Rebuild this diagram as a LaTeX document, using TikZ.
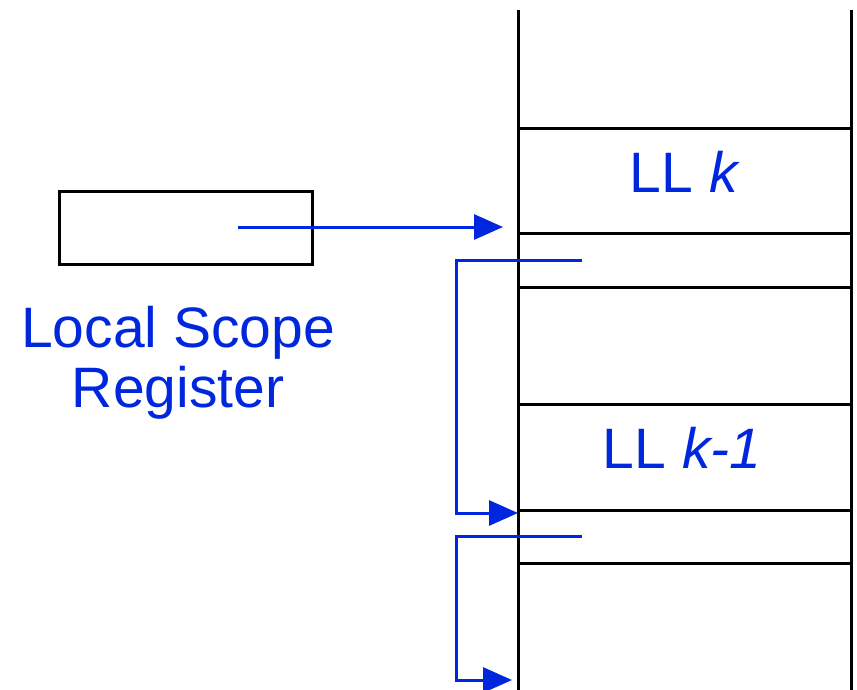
\documentclass[tikz,border=0pt]{standalone}
\usepackage{fontspec}
\setmainfont{Liberation Sans}
\usetikzlibrary{arrows.meta}
\definecolor{lblue}{RGB}{0,38,222}
\begin{document}
\begin{tikzpicture}[x=1pt,y=-1pt,
  stackline/.style={black,line width=3pt},
  ptr/.style={lblue,line width=3pt,-{Triangle[length=29pt,width=25pt]}},
  lbl/.style={text=lblue,font=\fontsize{57}{60}\selectfont,inner sep=0pt,anchor=base}]
\useasboundingbox (0,0) rectangle (857,689);
\begin{scope}
\clip (0,0) rectangle (857,689);
% stack walls
\draw[stackline] (518,10) -- (518,700);
\draw[stackline] (851,10) -- (851,700);
% stack rows
\foreach \y in {128,233,287,404,510,563}
  \draw[stackline] (518,\y) -- (851,\y);
% labels in stack
\node[lbl] (llk) at (685,192) {LL \textit{k}};
\node[lbl] (llk1) at (682,468) {LL \textit{k-1}};
% register
\node[draw=black,line width=3pt,minimum width=253pt,minimum height=73pt,inner sep=0pt] (reg) at (185.5,227.5) {};
\node[lbl,align=center] (lsr) at (178,407) {Local Scope\\Register};
% pointers
\coordinate (rs) at (238,227);
\coordinate (re) at (503,227);
\draw[ptr] (rs) -- (re);
\coordinate (a1) at (582,260);
\coordinate (a1c) at (456,260);
\coordinate (a1e) at (518,513);
\draw[ptr] (a1) -- (a1c) |- (a1e);
\coordinate (a2) at (582,536);
\coordinate (a2c) at (456,536);
\coordinate (a2e) at (512,680);
\draw[ptr] (a2) -- (a2c) |- (a2e);
\end{scope}
\end{tikzpicture}
\end{document}
